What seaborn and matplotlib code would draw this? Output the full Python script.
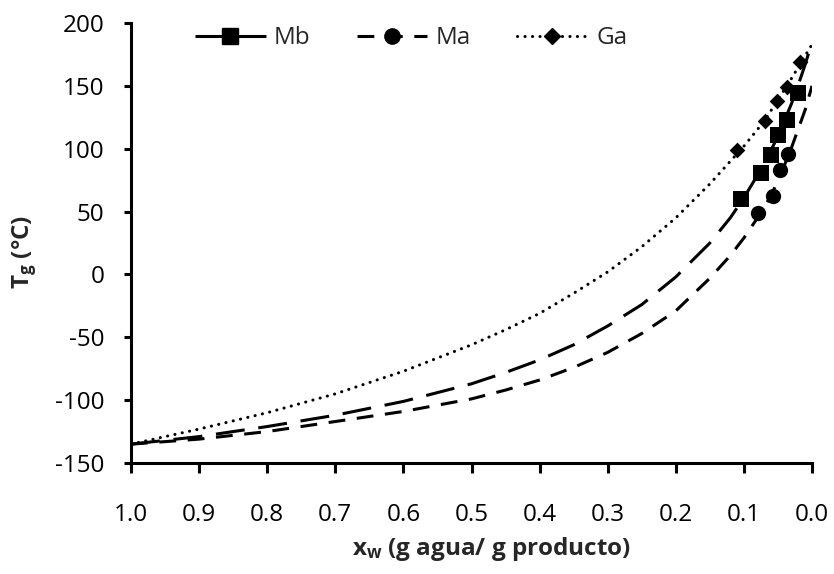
import matplotlib
matplotlib.use('Agg')
import matplotlib.pyplot as plt
import seaborn as sns
import pandas as pd
from matplotlib.lines import Line2D

# ---- data ----
series = ['Mb', 'Ma', 'Ga']

x_curve = [1.0, 0.9, 0.8, 0.7, 0.6, 0.5, 0.45, 0.4, 0.35, 0.3, 0.25, 0.2,
           0.15, 0.12, 0.1, 0.07, 0.05, 0.03, 0.02, 0.01, 0.0]
Tg_Mb_curve = [-135, -129, -121, -112, -101, -87, -78, -68, -56, -41, -24, -2,
               25, 45, 61, 88, 110, 136, 151, 167, 185]
Tg_Ma_curve = [-135, -131, -125, -117, -109, -99, -92, -84, -74, -62, -47, -29,
               -3, 15, 29, 53, 74, 101, 116, 131, 150]
Tg_Ga_curve = [-135, -123, -110, -95, -77, -56, -44, -31, -15, 2, 22, 45,
               72, 90, 102, 122, 139, 156, 165, 174, 183]

x_Mb_pts = [0.104, 0.075, 0.060, 0.050, 0.036, 0.020]
Tg_Mb_pts = [60, 81, 95, 111, 123, 144]
x_Ma_pts = [0.080, 0.057, 0.047, 0.035]
Tg_Ma_pts = [49, 62, 83, 96]
x_Ga_pts = [0.110, 0.069, 0.051, 0.037, 0.017]
Tg_Ga_pts = [99, 122, 138, 149, 169]

x_ticks = [1.0, 0.9, 0.8, 0.7, 0.6, 0.5, 0.4, 0.3, 0.2, 0.1, 0.0]
y_ticks = [-150, -100, -50, 0, 50, 100, 150, 200]

# ---- style ----
sns.set_theme(style='white')
plt.rcParams['font.family'] = ['Open Sans', 'DejaVu Sans']
plt.rcParams['mathtext.fontset'] = 'custom'
plt.rcParams['mathtext.rm'] = 'Open Sans'
plt.rcParams['mathtext.bf'] = 'Open Sans:bold'
plt.rcParams['mathtext.it'] = 'Open Sans:italic'

LW = 2.2
FS = 17.5
styles = {
    'Mb': dict(ls=(0, (9.5, 4.5)), marker='s', ms=11),
    'Ma': dict(ls=(0, (5.5, 3.8)), marker='o', ms=11),
    'Ga': dict(ls=(0, (0.05, 2.4)), marker='D', ms=8),
}
curves = {'Mb': Tg_Mb_curve, 'Ma': Tg_Ma_curve, 'Ga': Tg_Ga_curve}
pts = {'Mb': (x_Mb_pts, Tg_Mb_pts), 'Ma': (x_Ma_pts, Tg_Ma_pts), 'Ga': (x_Ga_pts, Tg_Ga_pts)}

fig = plt.figure(figsize=(8.34, 5.74), dpi=100)
ax = fig.add_axes([131 / 834, 1 - 463 / 574, (812 - 131) / 834, (463 - 23) / 574])

for name in series:
    st = styles[name]
    df = pd.DataFrame({'x': x_curve, 'Tg': curves[name]})
    sns.lineplot(data=df, x='x', y='Tg', ax=ax, sort=False, estimator=None,
                 color='black', linewidth=LW, linestyle=st['ls'],
                 dash_capstyle='round' if name == 'Ga' else 'butt')
    px, py = pts[name]
    dp = pd.DataFrame({'x': px, 'Tg': py})
    sns.scatterplot(data=dp, x='x', y='Tg', ax=ax, marker=st['marker'],
                    s=st['ms'] ** 2, color='black', edgecolor='black',
                    linewidth=0, zorder=5)

ax.set_xlim(1.0, 0.0)
ax.set_ylim(-150, 200)
ax.set_xticks(x_ticks)
ax.set_xticklabels([f'{v:.1f}' for v in x_ticks])
ax.set_yticks(y_ticks)
ax.set_yticklabels([str(v) for v in y_ticks])

for s in ['top', 'right']:
    ax.spines[s].set_visible(False)
for s in ['left', 'bottom']:
    ax.spines[s].set_linewidth(LW)
    ax.spines[s].set_color('black')

ax.tick_params(axis='x', direction='out', length=7, width=LW, colors='black',
               labelsize=FS, pad=22, bottom=True)
ax.tick_params(axis='y', direction='out', length=5, width=LW, colors='black',
               labelsize=FS, pad=14, left=True)

ax.set_xlabel(r'$\mathbf{x_w}$ (g agua/ g producto)', fontsize=17.5,
              fontweight='bold')
ax.set_ylabel(r'$\mathbf{T_g}$ (°C)', fontsize=17.5, fontweight='bold')
ax.xaxis.set_label_coords((492 - 131) / 681, -0.163)
ax.yaxis.set_label_coords((39 - 131) / 681, (463 - 252) / 440)

handles = []
for name in series:
    st = styles[name]
    handles.append(Line2D([], [], color='black', linewidth=LW, linestyle=st['ls'],
                          marker=st['marker'], markersize=st['ms'],
                          dash_capstyle='round' if name == 'Ga' else 'butt'))
fig.legend(handles, series, loc='upper left', bbox_to_anchor=(178 / 834, 1 - 9 / 574),
           ncol=3, frameon=False, fontsize=FS, handlelength=2.9,
           handletextpad=0.35, columnspacing=1.9, borderpad=0.2)

fig.savefig('out.png', dpi=100)
